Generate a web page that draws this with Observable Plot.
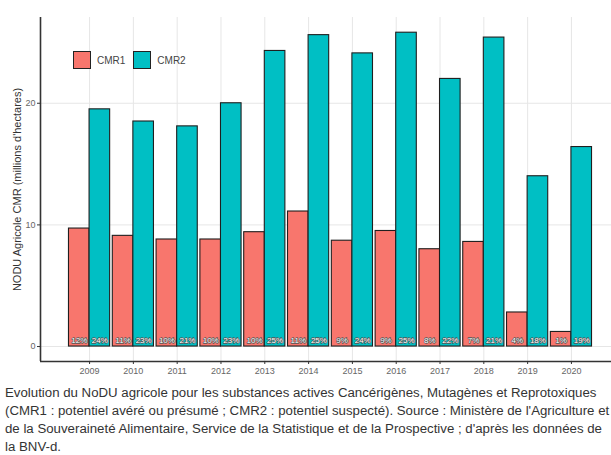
<!DOCTYPE html>
<html>
<head>
<meta charset="utf-8">
<script src="https://cdn.jsdelivr.net/npm/d3@7"></script>
<script src="https://cdn.jsdelivr.net/npm/@observablehq/plot@0.6"></script>
<style>
  html, body { margin: 0; padding: 0; background: #fff; overflow: hidden; }
  #wrap { position: relative; width: 611px; overflow: hidden; }
  #legend { position: absolute; left: 73px; top: 51px; display: flex; align-items: center;
            font-family: "Liberation Sans", Arial, sans-serif; font-size: 10px; color: #444; }
  .sw { width: 16px; height: 16px; border: 1.3px solid #222; box-sizing: content-box; margin-right: 6px; }
  .lab { margin-right: 8px; }
  #caption { font-family: "Liberation Sans", Arial, sans-serif; font-size: 13.25px; color: #333;
             line-height: 18px; padding-top: 1px; padding-left: 5px; white-space: nowrap; overflow: hidden; width: 606px; }
</style>
</head>
<body>
<div id="wrap">
  <div id="chart"></div>
  <div id="legend"></div>
</div>
<div id="caption"></div>
<script>
const years = [2009, 2010, 2011, 2012, 2013, 2014, 2015, 2016, 2017, 2018, 2019, 2020];
const seriesNames = ["CMR1", "CMR2"];
const seriesColors = ["#F8766D", "#00BFC4"];
const cmr1 = [9.7, 9.1, 8.8, 8.8, 9.4, 11.1, 8.7, 9.5, 8.0, 8.6, 2.8, 1.2];
const cmr2 = [19.5, 18.5, 18.1, 20.0, 24.3, 25.6, 24.1, 25.8, 22.0, 25.4, 14.0, 16.4];
const pct1 = ["12%", "11%", "10%", "10%", "10%", "11%", "9%", "9%", "8%", "7%", "4%", "1%"];
const pct2 = ["24%", "23%", "21%", "23%", "25%", "25%", "24%", "25%", "22%", "21%", "18%", "19%"];
const yTicks = [0, 10, 20];
const yTitle = "NODU Agricole CMR (millions d'hectares)";
const captionLines = [
  "Evolution du NoDU agricole pour les substances actives Cancérigènes, Mutagènes et Reprotoxiques",
  "(CMR1 : potentiel avéré ou présumé ; CMR2 : potentiel suspecté). Source : Ministère de l'Agriculture et",
  "de la Souveraineté Alimentaire, Service de la Statistique et de la Prospective ; d'après les données de",
  "la BNV-d."
];

const data = years.flatMap((yr, i) => [
  {year: yr, series: "CMR1", value: cmr1[i], pct: pct1[i]},
  {year: yr, series: "CMR2", value: cmr2[i], pct: pct2[i]}
]);

const half = 0.47;
const xDomain = [2007.88, 2021.12];
const yDomain = [-1.23, 27.05];
const font = "'Liberation Sans', Arial, sans-serif";

const chart = Plot.plot({
  width: 611,
  height: 383,
  marginLeft: 40,
  marginRight: 0,
  marginTop: 17,
  marginBottom: 22,
  style: {fontFamily: font, background: "white"},
  x: {type: "linear", domain: xDomain, range: [40, 620]},
  y: {domain: yDomain, range: [361, 17]},
  color: {domain: seriesNames, range: seriesColors},
  marks: [
    Plot.gridX(years, {stroke: "#e6e6e6", strokeOpacity: 1, strokeWidth: 1}),
    Plot.gridY(yTicks, {stroke: "#e6e6e6", strokeOpacity: 1, strokeWidth: 1}),
    Plot.rectY(data, {
      x1: d => d.series === "CMR1" ? d.year - half : d.year,
      x2: d => d.series === "CMR1" ? d.year : d.year + half,
      y: "value",
      fill: "series",
      stroke: "#1f1f1f",
      strokeWidth: 1.1
    }),
    Plot.text(data, {
      x: d => d.series === "CMR1" ? d.year - half / 2 : d.year + half / 2,
      y: d => 0,
      dy: -6,
      text: "pct",
      fill: "white",
      stroke: "#555",
      strokeWidth: 1.3,
      fontSize: 8
    }),
    Plot.ruleX([xDomain[0]], {stroke: "#333", strokeWidth: 1.6}),
    Plot.ruleY([yDomain[0]], {stroke: "#333", strokeWidth: 1.6}),
    Plot.axisX(years, {
      tickFormat: d => String(d), tickSize: 3, tickPadding: 3, stroke: "#333",
      fill: "#666", fontSize: 9, label: null
    }),
    Plot.axisY(yTicks, {
      tickSize: 3, tickPadding: 2, stroke: "#333", fill: "#666", fontSize: 9, label: null
    }),
    Plot.text([yTitle], {
      frameAnchor: "left", dx: -23, rotate: -90, text: d => d, textAnchor: "middle",
      fontSize: 11, fill: "#333"
    })
  ]
});
document.getElementById("chart").appendChild(chart);

const legend = document.getElementById("legend");
seriesNames.forEach((s, i) => {
  const sw = document.createElement("div");
  sw.className = "sw";
  sw.style.background = seriesColors[i];
  const lab = document.createElement("span");
  lab.className = "lab";
  lab.textContent = s;
  legend.appendChild(sw);
  legend.appendChild(lab);
});

const cap = document.getElementById("caption");
captionLines.forEach(line => {
  const div = document.createElement("div");
  div.textContent = line;
  cap.appendChild(div);
});
</script>
</body>
</html>
